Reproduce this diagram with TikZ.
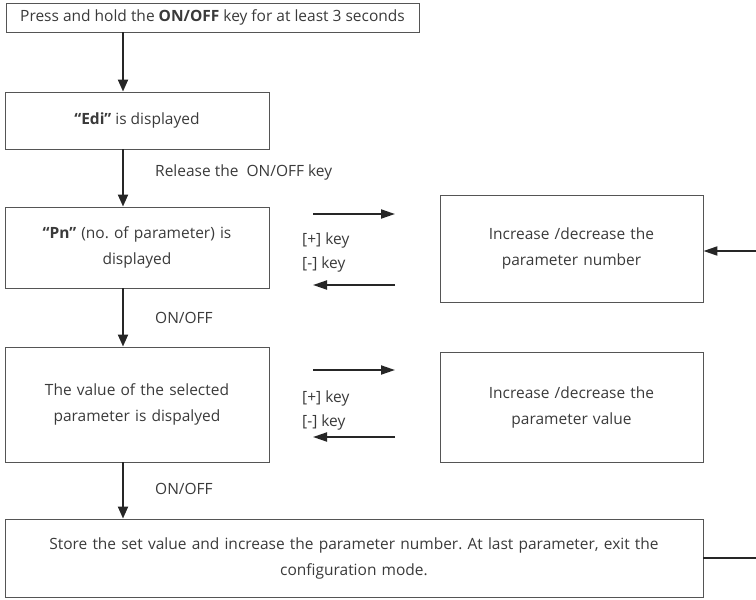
\documentclass[tikz,border=0pt]{standalone}
\usepackage{fontspec}
\setmainfont{Open Sans}
\usetikzlibrary{arrows.meta}
\definecolor{ink}{HTML}{3A3A3A}
\definecolor{frame}{HTML}{555555}
\frenchspacing
\tikzset{
  box/.style={draw=frame, line width=0.9pt, rectangle, inner sep=0pt,
    align=center, text=ink, font=\fontsize{15.5}{26}\selectfont},
  flow/.style={line width=2pt, draw=black!85,
    -{Triangle[length=12pt,width=10pt]}},
  side/.style={line width=2pt, draw=black!85,
    -{Triangle[length=14pt,width=9pt]}},
  lbl/.style={text=ink, font=\fontsize{15.5}{24}\selectfont, anchor=west, inner sep=0pt, align=left}
}
\begin{document}
\begin{tikzpicture}[x=1pt,y=-1pt]
  \useasboundingbox (0,0) rectangle (756,600);

  % main column
  \node[box, minimum width=413pt, minimum height=29pt] (press) at (212.5,17.5)
    {Press and hold the \textbf{ON/OFF} key for at least 3 seconds};
  \node[box, minimum width=264pt, minimum height=57pt] (edi) at (137,120.5)
    {\textbf{“Edi”} is displayed};
  \node[box, minimum width=264pt, minimum height=81pt, text width=250pt] (pn) at (137,247.5)
    {\textbf{“Pn”} (no. of parameter) is\\displayed};
  \node[box, minimum width=264pt, minimum height=115pt, text width=250pt] (val) at (137,404.5)
    {The value of the selected\\parameter is dispalyed};
  \node[box, minimum width=698pt, minimum height=78pt, text width=680pt] (store) at (354,558)
    {Store the set value and increase the parameter number. At last parameter, exit the\\configuration mode.};

  % right column
  \node[box, minimum width=263pt, minimum height=107pt, text width=250pt] (incn) at (571.5,248.5)
    {Increase /decrease the\\parameter number};
  \node[box, minimum width=263pt, minimum height=110pt, text width=250pt] (incv) at (571.5,407)
    {Increase /decrease the\\parameter value};

  % vertical flow
  \draw[flow] (press.south -| 123,0) -- (edi.north -| 123,0);
  \draw[flow] (edi.south -| 123,0) -- (pn.north -| 123,0);
  \draw[flow] (pn.south -| 123,0) -- (val.north -| 123,0);
  \draw[flow] (val.south -| 123,0) -- (store.north -| 123,0);

  \node[lbl] (rel) at (155,172) {Release the\ \ ON/OFF key};
  \node[lbl] (on1) at (155,318) {ON/OFF};
  \node[lbl] (on2) at (155,489) {ON/OFF};

  % key arrows between the columns
  \coordinate (a1s) at (313,214); \coordinate (a1e) at (395,214);
  \coordinate (b1s) at (395,285); \coordinate (b1e) at (313,285);
  \draw[side] (a1s) -- (a1e);
  \draw[side] (b1s) -- (b1e);
  \node[lbl] (p1) at (302,240) {[+] key};
  \node[lbl] (m1) at (302,264) {[-] key};

  \coordinate (a2s) at (313,370); \coordinate (a2e) at (395,370);
  \coordinate (b2s) at (395,437); \coordinate (b2e) at (313,437);
  \draw[side] (a2s) -- (a2e);
  \draw[side] (b2s) -- (b2e);
  \node[lbl] (p2) at (302,398) {[+] key};
  \node[lbl] (m2) at (302,422) {[-] key};

  % return path at the right edge
  \coordinate (ret1) at (756,558);
  \coordinate (ret2) at (756,251);
  \draw[line width=2pt, draw=black!85] (store.east) -- (ret1);
  \draw[side] (ret2) -- (ret2 -| incn.east);
\end{tikzpicture}
\end{document}
